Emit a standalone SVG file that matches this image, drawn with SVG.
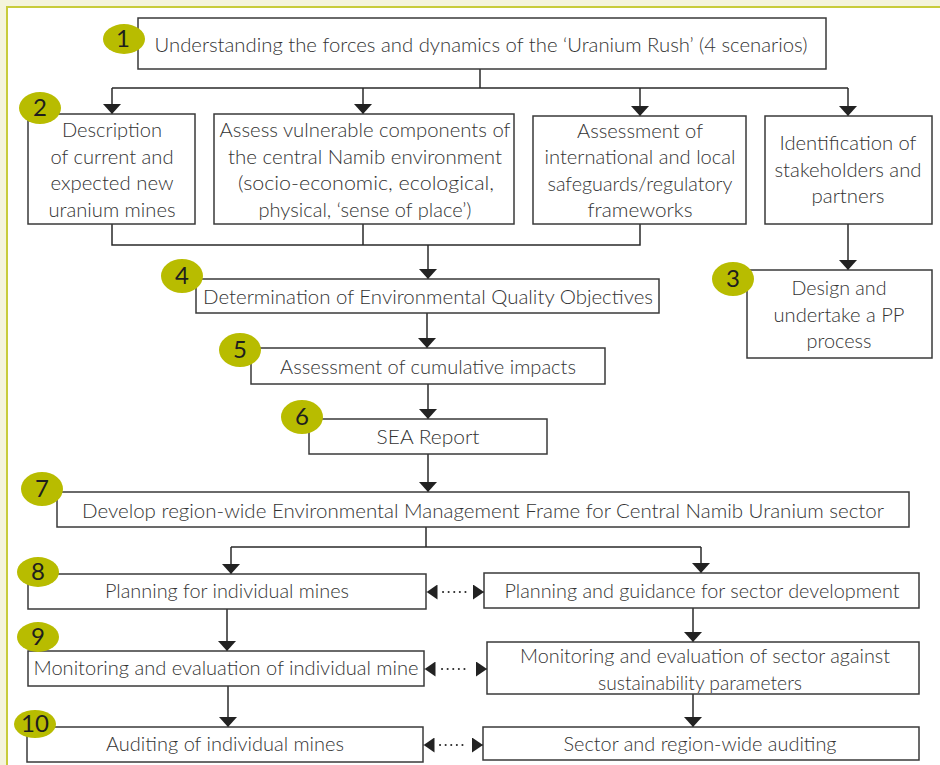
<svg xmlns="http://www.w3.org/2000/svg" width="940" height="765" viewBox="0 0 940 765">
<defs>
<style>
.bx{fill:#fff;stroke:#3a3a3a;stroke-width:1.5}
.t{font-family:Lato,"Open Sans","Liberation Sans",sans-serif;font-weight:300;font-size:20px;fill:#333;text-anchor:middle}
.bd{fill:#b8bc00}
.n{font-family:Lato,"Liberation Sans",sans-serif;font-weight:400;font-size:24px;fill:#1e1e1e;text-anchor:middle}
.c{fill:none;stroke:#2a2a2a;stroke-width:1.5}
.d{fill:none;stroke:#2a2a2a;stroke-width:2;stroke-dasharray:0.1 5.5;stroke-linecap:round}
</style>
<marker id="ah" markerUnits="userSpaceOnUse" markerWidth="10" markerHeight="18" viewBox="0 0 10 18" refX="10" refY="9" orient="auto">
<path d="M0,0 L10,9 L0,18 z" fill="#222"/>
</marker>
<marker id="sh" markerUnits="userSpaceOnUse" markerWidth="11" markerHeight="15" viewBox="0 0 11 15" refX="11" refY="7.5" orient="auto-start-reverse">
<path d="M0,0 L11,7.5 L0,15 z" fill="#222"/>
</marker>
</defs>
<rect x="0" y="0" width="940" height="765" fill="#f4f4dc"/>
<rect x="7" y="7" width="940" height="765" fill="#fff" stroke="#c8cc3a" stroke-width="2"/>

<g id="connectors">
<path class="c" d="M480,69 V88 M112,88 H848"/>
<path class="c" d="M112,88 V114" marker-end="url(#ah)"/>
<path class="c" d="M363,88 V114" marker-end="url(#ah)"/>
<path class="c" d="M640,88 V116" marker-end="url(#ah)"/>
<path class="c" d="M848,88 V116" marker-end="url(#ah)"/>
<path class="c" d="M112,224 V245 H640 V224 M363,224 V245"/>
<path class="c" d="M428,245 V279" marker-end="url(#ah)"/>
<path class="c" d="M848,224 V270" marker-end="url(#ah)"/>
<path class="c" d="M427,313 V348" marker-end="url(#ah)"/>
<path class="c" d="M428,384 V419" marker-end="url(#ah)"/>
<path class="c" d="M428,454 V492" marker-end="url(#ah)"/>
<path class="c" d="M426,527 V547 M231,547 H701"/>
<path class="c" d="M231,547 V574" marker-end="url(#ah)"/>
<path class="c" d="M701,547 V573" marker-end="url(#ah)"/>
<path class="c" d="M227,609 V651" marker-end="url(#ah)"/>
<path class="c" d="M693,608 V642" marker-end="url(#ah)"/>
<path class="c" d="M228,686 V727" marker-end="url(#ah)"/>
<path class="c" d="M693,694 V727" marker-end="url(#ah)"/>
<path class="d" d="M443,592 H468"/>
<path class="c" d="M426.5,592 H427" marker-start="url(#sh)"/>
<path class="c" d="M483,592 H484" marker-end="url(#sh)"/>
<path class="d" d="M442,669 H470"/>
<path class="c" d="M424.5,669 H425" marker-start="url(#sh)"/>
<path class="c" d="M486,669 H487" marker-end="url(#sh)"/>
<path class="d" d="M440,745 H467"/>
<path class="c" d="M423.5,745 H424" marker-start="url(#sh)"/>
<path class="c" d="M482,745 H483" marker-end="url(#sh)"/>
</g>

<g id="n1">
<rect class="bx" x="138" y="18" width="688" height="51"/>
<text class="t" x="481" y="52" textLength="653" lengthAdjust="spacingAndGlyphs">Understanding the forces and dynamics of the ‘Uranium Rush’ (4 scenarios)</text>
<ellipse class="bd" cx="124" cy="39" rx="21" ry="15"/>
<text class="n" x="123" y="47">1</text>
</g>

<g id="n2a">
<rect class="bx" x="28" y="114" width="167" height="110"/>
<text class="t" x="112" y="137" textLength="100" lengthAdjust="spacingAndGlyphs">Description</text>
<text class="t" x="112" y="164" textLength="123" lengthAdjust="spacingAndGlyphs">of current and</text>
<text class="t" x="112" y="190" textLength="123" lengthAdjust="spacingAndGlyphs">expected new</text>
<text class="t" x="112" y="217" textLength="127" lengthAdjust="spacingAndGlyphs">uranium mines</text>
<ellipse class="bd" cx="40" cy="108" rx="21" ry="16"/>
<text class="n" x="40" y="116">2</text>
</g>

<g id="n2b">
<rect class="bx" x="214" y="114" width="300" height="110"/>
<text class="t" x="365" y="137" textLength="291" lengthAdjust="spacingAndGlyphs">Assess vulnerable components of</text>
<text class="t" x="365" y="164" textLength="274" lengthAdjust="spacingAndGlyphs">the central Namib environment</text>
<text class="t" x="366" y="190" textLength="256" lengthAdjust="spacingAndGlyphs">(socio-economic, ecological,</text>
<text class="t" x="365" y="217" textLength="213" lengthAdjust="spacingAndGlyphs">physical, ‘sense of place’)</text>
</g>

<g id="n2c">
<rect class="bx" x="533" y="116" width="213" height="108"/>
<text class="t" x="640" y="138" textLength="126" lengthAdjust="spacingAndGlyphs">Assessment of</text>
<text class="t" x="640" y="164" textLength="191" lengthAdjust="spacingAndGlyphs">international and local</text>
<text class="t" x="640" y="191" textLength="185" lengthAdjust="spacingAndGlyphs">safeguards/regulatory</text>
<text class="t" x="640" y="217" textLength="105" lengthAdjust="spacingAndGlyphs">frameworks</text>
</g>

<g id="n2d">
<rect class="bx" x="765" y="116" width="167" height="108"/>
<text class="t" x="848" y="150" textLength="137" lengthAdjust="spacingAndGlyphs">Identification of</text>
<text class="t" x="848" y="177" textLength="147" lengthAdjust="spacingAndGlyphs">stakeholders and</text>
<text class="t" x="848" y="203" textLength="73" lengthAdjust="spacingAndGlyphs">partners</text>
</g>

<g id="n3">
<rect class="bx" x="747" y="270" width="185" height="88"/>
<text class="t" x="839" y="295" textLength="95" lengthAdjust="spacingAndGlyphs">Design and</text>
<text class="t" x="839" y="322" textLength="131" lengthAdjust="spacingAndGlyphs">undertake a PP</text>
<text class="t" x="839" y="348" textLength="65" lengthAdjust="spacingAndGlyphs">process</text>
<ellipse class="bd" cx="733" cy="279" rx="21" ry="17"/>
<text class="n" x="733" y="287">3</text>
</g>

<g id="n4">
<rect class="bx" x="196" y="279" width="463" height="34"/>
<text class="t" x="428" y="304" textLength="450" lengthAdjust="spacingAndGlyphs">Determination of Environmental Quality Objectives</text>
<ellipse class="bd" cx="182" cy="276" rx="21" ry="17"/>
<text class="n" x="182" y="284">4</text>
</g>

<g id="n5">
<rect class="bx" x="251" y="348" width="354" height="36"/>
<text class="t" x="428" y="374" textLength="296" lengthAdjust="spacingAndGlyphs">Assessment of cumulative impacts</text>
<ellipse class="bd" cx="240" cy="350" rx="21" ry="17"/>
<text class="n" x="240" y="358">5</text>
</g>

<g id="n6">
<rect class="bx" x="309" y="419" width="238" height="35"/>
<text class="t" x="428" y="444" textLength="103" lengthAdjust="spacingAndGlyphs">SEA Report</text>
<ellipse class="bd" cx="302" cy="417" rx="21" ry="17"/>
<text class="n" x="302" y="425">6</text>
</g>

<g id="n7">
<rect class="bx" x="57" y="492" width="852" height="35"/>
<text class="t" x="483" y="518" textLength="802" lengthAdjust="spacingAndGlyphs">Develop region-wide Environmental Management Frame for Central Namib Uranium sector</text>
<ellipse class="bd" cx="42" cy="489" rx="21" ry="17"/>
<text class="n" x="42" y="497">7</text>
</g>

<g id="n8">
<rect class="bx" x="28" y="574" width="398" height="35"/>
<text class="t" x="227" y="598" textLength="244" lengthAdjust="spacingAndGlyphs">Planning for individual mines</text>
<ellipse class="bd" cx="38" cy="572" rx="21" ry="15"/>
<text class="n" x="38" y="580">8</text>
</g>

<g id="n8b">
<rect class="bx" x="484" y="573" width="435" height="35"/>
<text class="t" x="702" y="598" textLength="395" lengthAdjust="spacingAndGlyphs">Planning and guidance for sector development</text>
</g>

<g id="n9">
<rect class="bx" x="28" y="651" width="396" height="35"/>
<text class="t" x="226" y="675" textLength="385" lengthAdjust="spacingAndGlyphs">Monitoring and evaluation of individual mine</text>
<ellipse class="bd" cx="38" cy="637" rx="21" ry="15"/>
<text class="n" x="38" y="645">9</text>
</g>

<g id="n9b">
<rect class="bx" x="487" y="642" width="432" height="52"/>
<text class="t" x="705" y="663" textLength="370" lengthAdjust="spacingAndGlyphs">Monitoring and evaluation of sector against</text>
<text class="t" x="700" y="690" textLength="204" lengthAdjust="spacingAndGlyphs">sustainability parameters</text>
</g>

<g id="n10">
<rect class="bx" x="27" y="727" width="396" height="35"/>
<text class="t" x="225" y="751" textLength="238" lengthAdjust="spacingAndGlyphs">Auditing of individual mines</text>
<ellipse class="bd" cx="35" cy="724" rx="21" ry="14"/>
<text class="n" x="35" y="732">10</text>
</g>

<g id="n10b">
<rect class="bx" x="483" y="727" width="436" height="33"/>
<text class="t" x="700" y="751" textLength="273" lengthAdjust="spacingAndGlyphs">Sector and region-wide auditing</text>
</g>
</svg>
